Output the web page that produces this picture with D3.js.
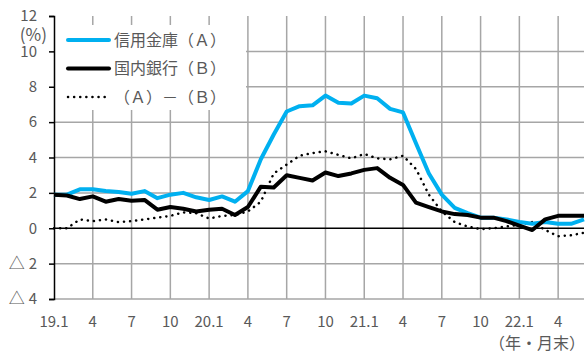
<!DOCTYPE html>
<html lang="ja">
<head>
<meta charset="utf-8">
<title>信用金庫と国内銀行</title>
<script src="https://d3js.org/d3.v7.min.js"></script>
<style>
	body { margin: 0; background: #fff; }
	.tick-label { font-family: "Noto Sans CJK JP", "Open Sans", sans-serif; font-size: 15px; fill: #595959; }
	.legend text { font-family: "Noto Sans CJK JP", sans-serif; font-size: 16px; fill: #595959; }
</style>
</head>
<body>
<script>
// months 19.1 .. 22.6
var months = [];
for (var yy = 19; yy <= 22; yy++) {
	for (var mm = 1; mm <= 12; mm++) {
		if (yy == 22 && mm > 6) break;
		months.push(yy + "." + mm);
	}
}

// 信用金庫（A）
var shinkin = [1.9, 1.9, 2.2, 2.2, 2.1, 2.05, 1.95, 2.1, 1.7, 1.9,
	2.0, 1.75, 1.6, 1.8, 1.5, 2.1, 3.9, 5.3, 6.6, 6.9,
	6.95, 7.5, 7.1, 7.05, 7.5, 7.35, 6.75, 6.55, 4.8, 3.1,
	1.9, 1.15, 0.85, 0.6, 0.6, 0.5, 0.35, 0.25, 0.35, 0.25,
	0.25, 0.5];

// 国内銀行（B）
var banks = [1.9, 1.85, 1.65, 1.8, 1.5, 1.65, 1.55, 1.6, 1.05, 1.2,
	1.1, 0.95, 1.05, 1.1, 0.75, 1.2, 2.35, 2.3, 3.0, 2.85,
	2.7, 3.15, 2.95, 3.1, 3.3, 3.4, 2.85, 2.45, 1.45, 1.2,
	0.95, 0.8, 0.75, 0.6, 0.6, 0.4, 0.15, -0.1, 0.5, 0.7,
	0.7, 0.7];

// （A）－（B）
var diff = [0, 0, 0.5, 0.4, 0.5, 0.35, 0.4, 0.5, 0.6, 0.7,
	0.9, 0.85, 0.55, 0.7, 0.75, 0.95, 1.5, 3.1, 3.6, 4.1,
	4.25, 4.35, 4.15, 3.95, 4.2, 3.95, 3.9, 4.1, 3.35, 1.9,
	0.95, 0.35, 0.1, -0.05, 0, 0.1, 0.2, 0.35, -0.1, -0.45,
	-0.4, -0.25];

var yTicks = [-4, -2, 0, 2, 4, 6, 8, 10, 12];
var seriesNames = ["信用金庫（Ａ）", "国内銀行（Ｂ）", "（Ａ）－（Ｂ）"];

var width = 585, height = 353;
var plotLeft = 54, plotRight = 584, plotTop = 16, plotBottom = 299;

var svg = d3.select("body").append("svg")
	.attr("width", width)
	.attr("height", height);

var x = d3.scalePoint()
	.domain(months)
	.range([plotLeft, plotRight]);

var y = d3.scaleLinear()
	.domain([-4, 12])
	.range([plotBottom, plotTop]);

// month labels every 3 months
var tickMonths = months.filter(function(m) {
	var mo = +m.split(".")[1];
	return mo == 1 || mo == 4 || mo == 7 || mo == 10;
});

// vertical grid
svg.append("g").selectAll("line")
	.data(tickMonths.filter(function(m) { return m != months[0]; }))
	.enter().append("line")
	.attr("x1", function(d) { return x(d); })
	.attr("x2", function(d) { return x(d); })
	.attr("y1", plotTop)
	.attr("y2", plotBottom)
	.attr("stroke", "#a6a6a6")
	.attr("stroke-width", 1.5);

// horizontal grid
svg.append("g").selectAll("line")
	.data(yTicks.filter(function(d) { return d != 0 && d != 12; }))
	.enter().append("line")
	.attr("x1", plotLeft)
	.attr("x2", plotRight)
	.attr("y1", function(d) { return y(d); })
	.attr("y2", function(d) { return y(d); })
	.attr("stroke", "#a6a6a6")
	.attr("stroke-width", 1.5);

// legend box covers grid
svg.append("rect")
	.attr("x", plotLeft + 1)
	.attr("y", 25)
	.attr("width", 191)
	.attr("height", 85)
	.attr("fill", "#fff");

// y axis
var yAxis = d3.axisLeft(y)
	.tickValues(yTicks)
	.tickSize(5)
	.tickFormat("");

var gy = svg.append("g")
	.attr("transform", "translate(" + plotLeft + ",0)")
	.call(yAxis);
gy.select(".domain").attr("stroke", "#000").attr("stroke-width", 1.5);
gy.selectAll(".tick line").attr("stroke", "#000").attr("stroke-width", 1.5);

// y labels, negatives shown with △
var yLab = svg.append("g").selectAll("text")
	.data(yTicks)
	.enter().append("text")
	.attr("class", "tick-label")
	.attr("x", 37)
	.attr("y", function(d) { return y(d); })
	.attr("dy", "0.35em")
	.attr("text-anchor", "end");
yLab.filter(function(d) { return d < 0; })
	.append("tspan")
	.style("font-size", "16px")
	.text("△");
yLab.append("tspan")
	.attr("dx", function(d) { return d < 0 ? 4 : 0; })
	.text(function(d) { return Math.abs(d); });

svg.append("text")
	.attr("class", "tick-label")
	.style("font-size", "17px")
	.attr("x", 47)
	.attr("y", 35)
	.attr("dy", "0.35em")
	.attr("text-anchor", "end")
	.text("(%)");

// zero line
svg.append("line")
	.attr("x1", plotLeft)
	.attr("x2", plotRight)
	.attr("y1", y(0))
	.attr("y2", y(0))
	.attr("stroke", "#000")
	.attr("stroke-width", 1.5);

// x labels
svg.append("g").selectAll("text")
	.data(tickMonths)
	.enter().append("text")
	.attr("class", "tick-label")
	.attr("x", function(d) { return x(d); })
	.attr("y", 322)
	.attr("dy", "0.35em")
	.attr("text-anchor", "middle")
	.text(function(d) {
		var p = d.split(".");
		return p[1] == "1" ? d : p[1];
	});

svg.append("text")
	.attr("class", "tick-label")
	.style("font-size", "16px")
	.attr("x", 585)
	.attr("y", 343)
	.attr("dy", "0.35em")
	.attr("text-anchor", "end")
	.text("（年・月末）");

// lines
var line = d3.line()
	.x(function(d, i) { return x(months[i]); })
	.y(function(d) { return y(d); });

svg.append("path")
	.datum(diff)
	.attr("d", line)
	.attr("fill", "none")
	.attr("stroke", "#000")
	.attr("stroke-width", 2.5)
	.attr("stroke-linecap", "round")
	.attr("stroke-dasharray", "0.1 6");

svg.append("path")
	.datum(shinkin)
	.attr("d", line)
	.attr("fill", "none")
	.attr("stroke", "#00b0f0")
	.attr("stroke-width", 4)
	.attr("stroke-linejoin", "round");

svg.append("path")
	.datum(banks)
	.attr("d", line)
	.attr("fill", "none")
	.attr("stroke", "#000")
	.attr("stroke-width", 4)
	.attr("stroke-linejoin", "round");

// legend
var legend = svg.append("g").attr("class", "legend");
var styles = [
	{stroke: "#00b0f0", width: 4, dash: null, cap: "round"},
	{stroke: "#000", width: 4, dash: null, cap: "round"},
	{stroke: "#000", width: 2.5, dash: "0.1 6", cap: "round"}
];
seriesNames.forEach(function(name, i) {
	var ly = 40 + i * 28.5;
	legend.append("line")
		.attr("x1", 68)
		.attr("x2", i == 2 ? 105 : 109)
		.attr("y1", ly)
		.attr("y2", ly)
		.attr("stroke", styles[i].stroke)
		.attr("stroke-width", styles[i].width)
		.attr("stroke-linecap", styles[i].cap)
		.attr("stroke-dasharray", styles[i].dash);
	legend.append("text")
		.attr("x", 114)
		.attr("y", ly)
		.attr("dy", "0.35em")
		.text(name);
});
</script>
</body>
</html>
